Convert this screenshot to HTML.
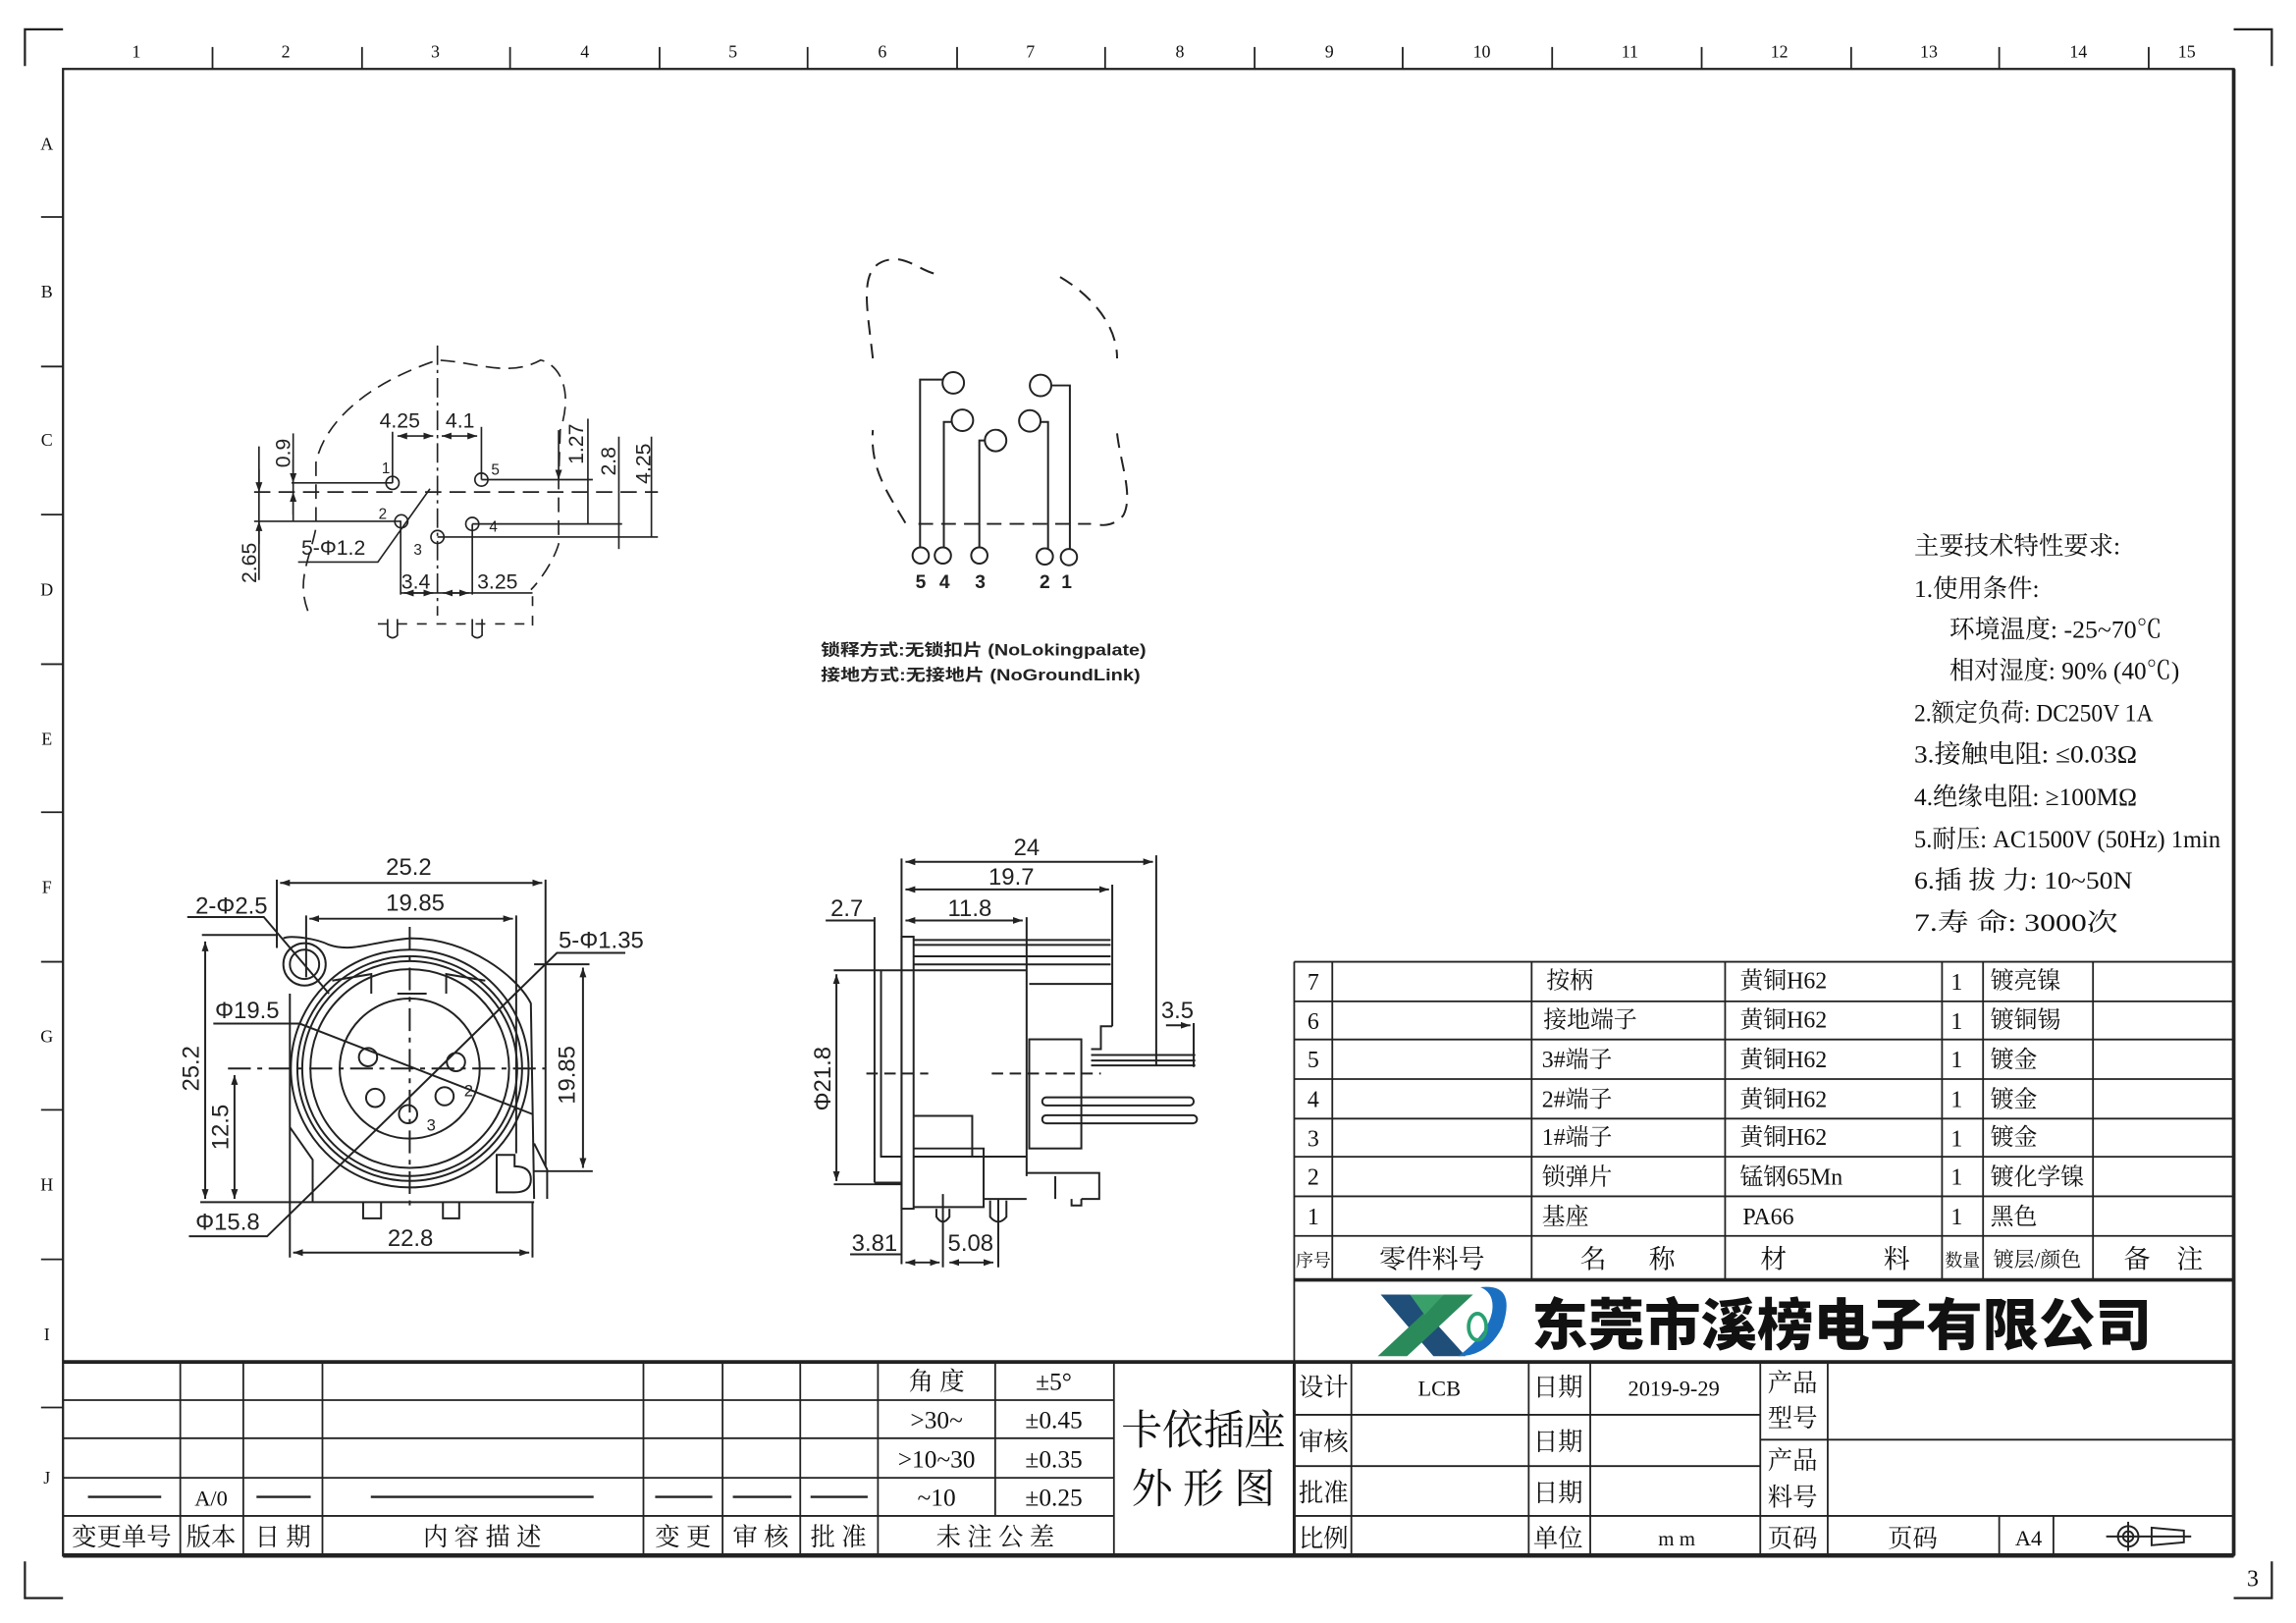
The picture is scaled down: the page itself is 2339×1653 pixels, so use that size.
<!DOCTYPE html>
<html><head><meta charset="utf-8"><style>
html,body{margin:0;padding:0;background:#fff}
svg{display:block}
.s{font-family:"Liberation Serif","Noto Serif CJK SC",serif;fill:#111}
.a{font-family:"Liberation Sans","Noto Sans CJK SC",sans-serif;fill:#222}
</style></head><body>
<svg width="2339" height="1653" viewBox="0 0 1566.5 1107" xmlns="http://www.w3.org/2000/svg">
<defs>
<marker id="ar" viewBox="0 0 10 10" refX="10" refY="5" markerWidth="7" markerHeight="7" orient="auto-start-reverse" markerUnits="userSpaceOnUse"><path d="M0,1.5 L10,5 L0,8.5 z" fill="#222"/></marker>
<marker id="az" viewBox="0 0 10 10" refX="10" refY="5" markerWidth="30" markerHeight="30" orient="auto-start-reverse" markerUnits="userSpaceOnUse"><path d="M0,1.5 L10,5 L0,8.5 z" fill="#222"/></marker>
</defs>
<rect width="1566.5" height="1107" fill="#fff"/>
<!-- frame -->
<g stroke="#222" fill="none">
<rect x="43" y="47" width="1481" height="1014" stroke-width="1.5"/>
<line x1="43" y1="1061" x2="1524" y2="1061" stroke-width="3"/>
<line x1="1524" y1="47" x2="1524" y2="1061" stroke-width="2.5"/>
<path d="M17,45 V20 H43 M1524,20 H1550 V45 M17,1065 V1090 H43 M1524,1090 H1550 V1065" stroke-width="1.5"/>
<g stroke-width="1.2">
<path d="M145,32V47M247,32V47M348,32V47M450,32V47M551,32V47M653,32V47M754,32V47M856,32V47M957,32V47M1059,32V47M1161,32V47M1263,32V47M1364,32V47M1466,32V47"/>
<path d="M28,148H43M28,250H43M28,351H43M28,453H43M28,554H43M28,656H43M28,757H43M28,859H43M28,960H43"/>
</g>
</g>
<g class="s" font-size="12" text-anchor="middle">
<text x="93" y="39">1</text><text x="195" y="39">2</text><text x="297" y="39">3</text><text x="399" y="39">4</text><text x="500" y="39">5</text><text x="602" y="39">6</text><text x="703" y="39">7</text><text x="805" y="39">8</text><text x="907" y="39">9</text><text x="1011" y="39">10</text><text x="1112" y="39">11</text><text x="1214" y="39">12</text><text x="1316" y="39">13</text><text x="1418" y="39">14</text><text x="1492" y="39">15</text>
<text x="32" y="102">A</text><text x="32" y="203">B</text><text x="32" y="304">C</text><text x="32" y="406">D</text><text x="32" y="508">E</text><text x="32" y="609">F</text><text x="32" y="711">G</text><text x="32" y="812">H</text><text x="32" y="914">I</text><text x="32" y="1012">J</text>
<text x="1537" y="1082" font-size="16">3</text>
</g>

<!-- Drawing 1 -->
<g transform="translate(146.7,226.7) scale(0.2222)" stroke="#222" fill="none" stroke-width="5">
<line x1="683" y1="40" x2="683" y2="870" stroke-dasharray="60,15,10,15"/>
<line x1="120" y1="490" x2="1360" y2="490" stroke-dasharray="50,25"/>
<path d="M285,855 C250,760 290,700 310,600 L310,400 C330,300 430,170 683,85 C800,90 900,140 1000,85 C1060,100 1100,180 1060,300 L1055,460 L1055,650 C1040,700 1000,760 970,790" stroke-dasharray="45,25"/>
<path d="M975,810 V900 M500,895 H980" stroke-dasharray="30,30"/>
<path d="M530,880 V930 Q545,945 560,930 V880 M790,880 V930 Q805,945 820,930 V880"/>
<circle cx="545" cy="462" r="20"/><circle cx="818" cy="452" r="20"/><circle cx="572" cy="580" r="20"/><circle cx="790" cy="588" r="20"/><circle cx="683" cy="628" r="20"/>
<path d="M545,305V462 M818,290V452 M235,462H545 M120,580H572 M818,452H1160 M790,588H1250 M683,628H1360 M570,580V805 M790,588V805 M570,800H975 M660,480L500,705H255"/>
<line x1="560" y1="318" x2="670" y2="318" marker-start="url(#az)" marker-end="url(#az)"/>
<line x1="696" y1="318" x2="805" y2="318" marker-start="url(#az)" marker-end="url(#az)"/>
<line x1="135" y1="350" x2="135" y2="760"/><line x1="135" y1="420" x2="135" y2="490" marker-end="url(#az)"/><line x1="135" y1="650" x2="135" y2="580" marker-end="url(#az)"/>
<line x1="240" y1="310" x2="240" y2="580"/><line x1="240" y1="390" x2="240" y2="462" marker-end="url(#az)"/><line x1="240" y1="560" x2="240" y2="490" marker-end="url(#az)"/>
<line x1="1145" y1="265" x2="1145" y2="588"/><line x1="1240" y1="320" x2="1240" y2="665"/><line x1="1340" y1="320" x2="1340" y2="628"/>
<line x1="1055" y1="300" x2="1055" y2="452" marker-end="url(#az)"/>
<line x1="580" y1="800" x2="670" y2="800" marker-start="url(#az)" marker-end="url(#az)"/>
<line x1="700" y1="800" x2="780" y2="800" marker-start="url(#az)" marker-end="url(#az)"/>
</g>
<g transform="translate(146.7,226.7) scale(0.2222)" class="a" font-size="64">
<text x="505" y="292">4.25</text><text x="708" y="292">4.1</text>
<text x="512" y="432" font-size="46">1</text><text x="848" y="437" font-size="46">5</text><text x="502" y="572" font-size="46">2</text><text x="842" y="612" font-size="46">4</text><text x="610" y="682" font-size="46">3</text>
<text x="265" y="682">5-Φ1.2</text><text x="572" y="787">3.4</text><text x="805" y="787">3.25</text>
<text transform="translate(127,770) rotate(-90)">2.65</text>
<text transform="translate(230,415) rotate(-90)">0.9</text>
<text transform="translate(1130,405) rotate(-90)">1.27</text>
<text transform="translate(1230,440) rotate(-90)">2.8</text>
<text transform="translate(1337,465) rotate(-90)">4.25</text>
</g>

<!-- Drawing 2 -->
<g transform="translate(553.3,160) scale(0.2222)" stroke="#222" fill="none" stroke-width="6">
<path d="M290,885 C240,800 180,720 190,600" stroke-dasharray="45,28"/>
<path d="M190,380 C170,200 140,80 260,75 C310,80 340,110 380,120" stroke-dasharray="45,28"/>
<path d="M765,130 C850,180 940,270 940,380" stroke-dasharray="45,28"/>
<path d="M940,610 C950,700 990,800 960,860 C940,890 900,895 880,890" stroke-dasharray="45,28"/>
<path d="M330,888H860" stroke-dasharray="45,25"/>
<circle cx="437" cy="455" r="33"/><circle cx="465" cy="570" r="33"/><circle cx="567" cy="632" r="33"/><circle cx="705" cy="463" r="33"/><circle cx="672" cy="572" r="33"/>
<path d="M404,445H335V960 M432,575H408V960 M534,632H517V960 M738,463H795V965 M705,575H728V963"/>
<circle cx="337" cy="985" r="25"/><circle cx="405" cy="985" r="25"/><circle cx="517" cy="985" r="25"/><circle cx="718" cy="988" r="25"/><circle cx="792" cy="990" r="25"/>
</g>
<g transform="translate(553.3,160) scale(0.2222)" class="a" font-size="58" font-weight="bold" text-anchor="middle">
<text x="337" y="1085">5</text><text x="410" y="1085">4</text><text x="520" y="1085">3</text><text x="718" y="1085">2</text><text x="785" y="1085">1</text>
</g>
<g class="a" font-size="11" font-weight="bold" fill="#333">
<text x="560" y="447" textLength="222" lengthAdjust="spacingAndGlyphs">锁释方式:无锁扣片 (NoLokingpalate)</text>
<text x="560" y="464" textLength="218" lengthAdjust="spacingAndGlyphs">接地方式:无接地片 (NoGroundLink)</text>
</g>

<!-- Drawing 3 -->
<g transform="translate(120,573.3) scale(0.2222)" stroke="#222" fill="none" stroke-width="6">
<line x1="320" y1="130" x2="1125" y2="130" marker-start="url(#az)" marker-end="url(#az)"/>
<path d="M310,120V330 M1135,120V1000 M400,230V420 M1045,230V960"/>
<line x1="410" y1="240" x2="1035" y2="240" marker-start="url(#az)" marker-end="url(#az)"/>
<path d="M35,235H270L470,470"/>
<circle cx="395" cy="380" r="65"/><circle cx="395" cy="380" r="45"/>
<path d="M330,300 C350,290 430,300 470,320 C540,345 600,310 720,300 C900,300 1050,420 1090,500 L1100,1100 M350,470 V1110 M350,1110 H1100 M350,880 L420,980 V1110 M1100,930 L1140,1010 V1100"/>
<circle cx="718" cy="700" r="365"/><circle cx="718" cy="700" r="345"/><circle cx="718" cy="700" r="330"/><circle cx="718" cy="700" r="305"/><circle cx="718" cy="700" r="215"/>
<path d="M480,430 L600,410 V470 M950,430 L830,410 V470 M680,470 H770"/>
<circle cx="590" cy="665" r="28"/><circle cx="860" cy="680" r="28"/><circle cx="612" cy="790" r="28"/><circle cx="825" cy="785" r="28"/><circle cx="713" cy="840" r="28"/>
<line x1="160" y1="700" x2="1135" y2="700" stroke-dasharray="70,20,15,20"/>
<line x1="718" y1="265" x2="718" y2="1140" stroke-dasharray="70,20,15,20"/>
<path d="M1380,345H1170L280,1215H40 M115,562H380L1095,840"/>
<path d="M80,290H310 M75,1110H350 M1100,380H1270 M1100,1015H1280 M350,1110V1280 M1095,1110V1280"/>
<line x1="90" y1="310" x2="90" y2="1100" marker-start="url(#az)" marker-end="url(#az)"/>
<line x1="180" y1="720" x2="180" y2="1100" marker-start="url(#az)" marker-end="url(#az)"/>
<line x1="1250" y1="390" x2="1250" y2="1005" marker-start="url(#az)" marker-end="url(#az)"/>
<line x1="360" y1="1265" x2="1085" y2="1265" marker-start="url(#az)" marker-end="url(#az)"/>
<path d="M575,1110V1160H630V1110 M820,1110V1160H870V1110"/>
<path d="M985,965H1040V1000 Q1090,1000 1090,1040 Q1090,1080 1040,1080 H985 Z"/>
</g>
<g transform="translate(120,573.3) scale(0.2222)" class="a" font-size="72">
<text x="645" y="105">25.2</text><text x="645" y="215">19.85</text><text x="60" y="225">2-Φ2.5</text>
<text x="1175" y="330">5-Φ1.35</text><text x="120" y="545">Φ19.5</text><text x="60" y="1195">Φ15.8</text>
<text x="650" y="1245">22.8</text>
<text transform="translate(70,770) rotate(-90)">25.2</text>
<text transform="translate(160,950) rotate(-90)">12.5</text>
<text transform="translate(1225,810) rotate(-90)">19.85</text>
<text x="885" y="785" font-size="50">2</text><text x="770" y="890" font-size="50">3</text>
</g>

<!-- Drawing 4 -->
<g transform="translate(560,566.7) scale(0.2222)" stroke="#222" fill="none" stroke-width="6">
<line x1="260" y1="95" x2="1020" y2="95" marker-start="url(#az)" marker-end="url(#az)"/>
<line x1="260" y1="180" x2="885" y2="180" marker-start="url(#az)" marker-end="url(#az)"/>
<line x1="260" y1="275" x2="620" y2="275" marker-start="url(#az)" marker-end="url(#az)"/>
<path d="M248,85V1330 M1030,75V720 M895,165V600 M632,265V1060 M15,275H165 M165,265V1080 M40,428H632 M40,1085H248 M1145,590V725"/>
<line x1="48" y1="440" x2="48" y2="1075" marker-start="url(#az)" marker-end="url(#az)"/>
<line x1="1060" y1="597" x2="1135" y2="597" marker-end="url(#az)"/>
<rect x="248" y="325" width="37" height="835"/>
<path d="M285,335H890 M285,350H890 M285,385H890 M285,410H890 M640,470H895 M895,600H860V670H830 M830,688H1150 M830,705H1150 M830,720H1150 M185,430V1000H248 M165,1080H248"/>
<rect x="640" y="640" width="160" height="335"/>
<rect x="680" y="818" width="465" height="25" rx="12"/>
<rect x="680" y="873" width="475" height="25" rx="12"/>
<path d="M285,875H465V1000 M285,1000H632 M285,975H500V1155H285 M500,1130H632 M632,1050H855V1130H800 M720,1060V1130 M770,1130V1150H800V1130"/>
<path d="M355,1160V1185Q375,1215 395,1185V1160 M520,1135V1185Q545,1215 570,1185V1135"/>
<path d="M375,1115V1340 M545,1130V1340 M90,1300H248"/>
<line x1="260" y1="1325" x2="365" y2="1325" marker-start="url(#az)" marker-end="url(#az)"/>
<line x1="395" y1="1325" x2="530" y2="1325" marker-start="url(#az)" marker-end="url(#az)"/>
<path d="M140,745H330 M525,745H860" stroke-dasharray="35,20"/>
</g>
<g transform="translate(560,566.7) scale(0.2222)" class="a" font-size="72">
<text x="592" y="75">24</text><text x="515" y="165">19.7</text><text x="390" y="262">11.8</text><text x="30" y="262">2.7</text>
<text x="1045" y="575">3.5</text><text x="95" y="1290">3.81</text><text x="390" y="1290">5.08</text>
<text transform="translate(30,860) rotate(-90)">Φ21.8</text>
</g>

<!-- Spec text -->
<g class="s" font-size="17">
<text x="1306" y="378">主要技术特性要求:</text>
<text x="1306" y="407">1.使用条件:</text>
<text x="1330" y="435" textLength="145" lengthAdjust="spacingAndGlyphs">环境温度: -25~70℃</text>
<text x="1330" y="463" textLength="157" lengthAdjust="spacingAndGlyphs">相对湿度: 90% (40℃)</text>
<text x="1306" y="492" textLength="163" lengthAdjust="spacingAndGlyphs">2.额定负荷: DC250V 1A</text>
<text x="1306" y="520" textLength="152" lengthAdjust="spacingAndGlyphs">3.接触电阻: ≤0.03Ω</text>
<text x="1306" y="549" textLength="152" lengthAdjust="spacingAndGlyphs">4.绝缘电阻: ≥100MΩ</text>
<text x="1306" y="578" textLength="209" lengthAdjust="spacingAndGlyphs">5.耐压: AC1500V (50Hz) 1min</text>
<text x="1306" y="606" textLength="149" lengthAdjust="spacingAndGlyphs">6.插 拔 力: 10~50N</text>
<text x="1306" y="635" textLength="139" lengthAdjust="spacingAndGlyphs">7.寿    命: 3000次</text>
</g>

<!-- Parts table -->
<g stroke="#222" fill="none" stroke-width="1.2">
<path d="M883,656H1524 M883,683H1524 M883,709H1524 M883,736H1524 M883,763H1524 M883,789H1524 M883,816H1524 M883,843H1524"/>
<path d="M883,656V929 M909,656V873 M1045,656V873 M1177,656V873 M1325,656V873 M1353,656V873 M1428,656V873"/>
<line x1="883" y1="873" x2="1524" y2="873" stroke-width="2.5"/>
<line x1="43" y1="929" x2="1524" y2="929" stroke-width="2.5"/>
</g>
<g class="s" font-size="16">
<g text-anchor="middle"><text x="896" y="675">7</text><text x="896" y="702">6</text><text x="896" y="728">5</text><text x="896" y="755">4</text><text x="896" y="782">3</text><text x="896" y="808">2</text><text x="896" y="835">1</text>
<text x="1335" y="675">1</text><text x="1335" y="702">1</text><text x="1335" y="728">1</text><text x="1335" y="755">1</text><text x="1335" y="782">1</text><text x="1335" y="808">1</text><text x="1335" y="835">1</text></g>
<text x="1055" y="674">按柄</text><text x="1053" y="701">接地端子</text><text x="1052" y="728">3#端子</text><text x="1052" y="755">2#端子</text><text x="1052" y="781">1#端子</text><text x="1052" y="808">锁弹片</text><text x="1052" y="835">基座</text>
<text x="1187" y="674">黄铜H62</text><text x="1187" y="701">黄铜H62</text><text x="1187" y="728">黄铜H62</text><text x="1187" y="755">黄铜H62</text><text x="1187" y="781">黄铜H62</text><text x="1187" y="808">锰钢65Mn</text><text x="1189" y="835">PA66</text>
<text x="1358" y="674">镀亮镍</text><text x="1358" y="701">镀铜锡</text><text x="1358" y="728">镀金</text><text x="1358" y="755">镀金</text><text x="1358" y="781">镀金</text><text x="1358" y="808">镀化学镍</text><text x="1358" y="835">黑色</text>
<text x="896" y="864" font-size="12" text-anchor="middle">序号</text>
<text x="977" y="865" font-size="18" text-anchor="middle">零件料号</text>
<text x="1087" y="865" font-size="18" text-anchor="middle">名</text><text x="1134" y="865" font-size="18" text-anchor="middle">称</text>
<text x="1210" y="865" font-size="18" text-anchor="middle">材</text><text x="1294" y="865" font-size="18" text-anchor="middle">料</text>
<text x="1339" y="864" font-size="12" text-anchor="middle">数量</text>
<text x="1390" y="864" font-size="14" text-anchor="middle">镀层/颜色</text>
<text x="1458" y="865" font-size="18" text-anchor="middle">备</text><text x="1494" y="865" font-size="18" text-anchor="middle">注</text>
</g>

<!-- Logo -->
<g>
<polygon points="942,883 962,883 1000,925 978,925" fill="#1f4e79"/>
<polygon points="940,925 985,883 1005,883 960,925" fill="#2a8a5a"/>
<polygon points="962,883 985,883 972,897" fill="#3aa06a"/>
<path d="M1010,878 Q1035,875 1025,905 Q1015,925 995,925 Q1015,910 1018,895 Q1020,882 1010,878Z" fill="#1a6fc0"/>
<ellipse cx="1008" cy="905" rx="6" ry="9" fill="none" stroke="#2aa070" stroke-width="2.5"/>
</g>
<text x="1045" y="917" font-family="'Liberation Sans','Noto Sans CJK SC',sans-serif" font-weight="900" font-size="38" fill="#111" textLength="423" lengthAdjust="spacingAndGlyphs">东莞市溪榜电子有限公司</text>

<!-- Title block right -->
<g stroke="#222" fill="none" stroke-width="1.2">
<path d="M883,965H1201 M883,1000H1201 M1201,982H1524 M883,1034H1524"/>
<path d="M922,929V1061 M1043,929V1061 M1085,929V1061 M1201,929V1061 M1247,929V1061 M1364,1034V1061 M1401,1034V1061"/>
<line x1="883" y1="929" x2="883" y2="1061" stroke-width="2"/>
</g>
<g class="s" font-size="17">
<text x="886" y="952">设计</text><text x="982" y="952" text-anchor="middle" font-size="15">LCB</text>
<text x="1046" y="952">日期</text><text x="1142" y="952" text-anchor="middle" font-size="15">2019-9-29</text>
<text x="1206" y="949">产品</text><text x="1206" y="973">型号</text>
<text x="886" y="989">审核</text><text x="1046" y="989">日期</text>
<text x="886" y="1024">批准</text><text x="1046" y="1024">日期</text>
<text x="1206" y="1002">产品</text><text x="1206" y="1027">料号</text>
<text x="886" y="1055">比例</text><text x="1046" y="1055">单位</text><text x="1144" y="1054" text-anchor="middle" font-size="14">m m</text>
<text x="1206" y="1055">页码</text><text x="1305" y="1055" text-anchor="middle">页码</text><text x="1384" y="1054" text-anchor="middle" font-size="15">A4</text>
</g>
<g stroke="#222" fill="none" stroke-width="1.3">
<circle cx="1452" cy="1048" r="7"/><circle cx="1452" cy="1048" r="3.5"/>
<path d="M1437,1048H1495 M1452,1038V1058 M1468,1042V1054L1490,1052V1044Z"/>
</g>

<!-- Left tolerance table -->
<g stroke="#222" fill="none" stroke-width="1.2">
<path d="M43,955H760 M43,981H760 M43,1008H760 M43,1034H760"/>
<path d="M123,929V1061 M166,929V1061 M220,929V1061 M439,929V1061 M493,929V1061 M546,929V1061 M599,929V1061 M679,929V1034 M760,929V1061"/>
<path d="M60,1021H110 M175,1021H212 M253,1021H405 M447,1021H486 M500,1021H540 M553,1021H592" stroke-width="1.6"/>
</g>
<g class="s" font-size="17" text-anchor="middle">
<text x="639" y="948">角 度</text><text x="719" y="948">±5°</text>
<text x="639" y="974">&gt;30~</text><text x="719" y="974">±0.45</text>
<text x="639" y="1001">&gt;10~30</text><text x="719" y="1001">±0.35</text>
<text x="639" y="1027">~10</text><text x="719" y="1027">±0.25</text>
<text x="144" y="1027" font-size="15">A/0</text>
<text x="83" y="1054">变更单号</text><text x="144" y="1054">版本</text><text x="193" y="1054">日 期</text>
<text x="329" y="1054">内 容 描 述</text><text x="466" y="1054">变 更</text><text x="519" y="1054">审 核</text><text x="572" y="1054">批 准</text><text x="679" y="1054">未 注 公 差</text>
<text x="821" y="985" font-size="28">卡依插座</text>
<text x="821" y="1025" font-size="28">外 形 图</text>
</g>
</svg>
</body></html>
